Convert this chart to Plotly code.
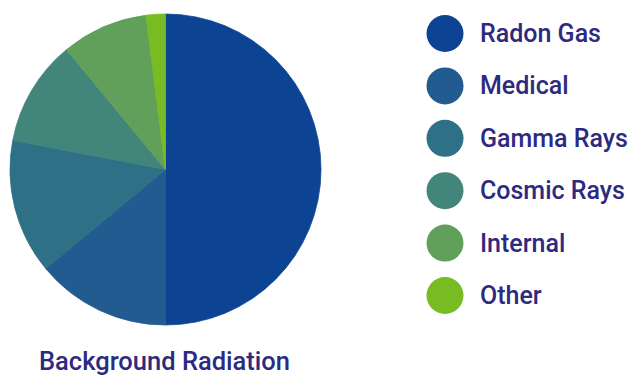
import plotly.graph_objects as go

categories = ["Radon Gas", "Medical", "Gamma Rays", "Cosmic Rays", "Internal", "Other"]
values = [50, 14, 14, 11, 9, 2]
colors = ["#0C4493", "#225B8F", "#2E7085", "#42857A", "#61A05B", "#78BB22"]
title_text = "Background Radiation"

W, H = 633, 376
text_color = "#2D2A80"
font_family = "Roboto, Open Sans, sans-serif"

fig = go.Figure()
fig.add_trace(go.Pie(
    labels=categories, values=values, sort=False, direction="clockwise",
    rotation=0, marker=dict(colors=colors, line=dict(width=0.8, color=colors)),
    textinfo="none", hoverinfo="label+percent", showlegend=False,
    domain=dict(x=[10 / W, 321 / W], y=[1 - 325 / H, 1 - 14 / H]),
))

# custom circular legend
leg_x, leg_y0, leg_dy = 445, 33.5, 52.4
leg_ys = [leg_y0 + i * leg_dy for i in range(len(categories))]
fig.add_trace(go.Scatter(
    x=[leg_x] * len(categories), y=leg_ys, mode="markers",
    marker=dict(size=37, color=colors, line=dict(width=0)),
    hoverinfo="text", hovertext=categories, showlegend=False,
    xaxis="x", yaxis="y",
))
for name, yy in zip(categories, leg_ys):
    fig.add_annotation(x=leg_x + 33, y=yy, xref="x", yref="y", text=name,
                       showarrow=False, xanchor="left", yanchor="middle",
                       font=dict(family=font_family, size=25, weight=500, color=text_color))

fig.add_annotation(x=164, y=361, xref="x", yref="y", text=title_text,
                   showarrow=False, xanchor="center", yanchor="middle",
                   font=dict(family=font_family, size=25.5, weight=500, color=text_color))

fig.update_layout(
    width=W, height=H, margin=dict(l=0, r=0, t=0, b=0),
    paper_bgcolor="white", plot_bgcolor="rgba(0,0,0,0)",
    xaxis=dict(range=[0, W], domain=[0, 1], visible=False, fixedrange=True),
    yaxis=dict(range=[H, 0], domain=[0, 1], visible=False, fixedrange=True),
)
fig.write_html("out.html")
